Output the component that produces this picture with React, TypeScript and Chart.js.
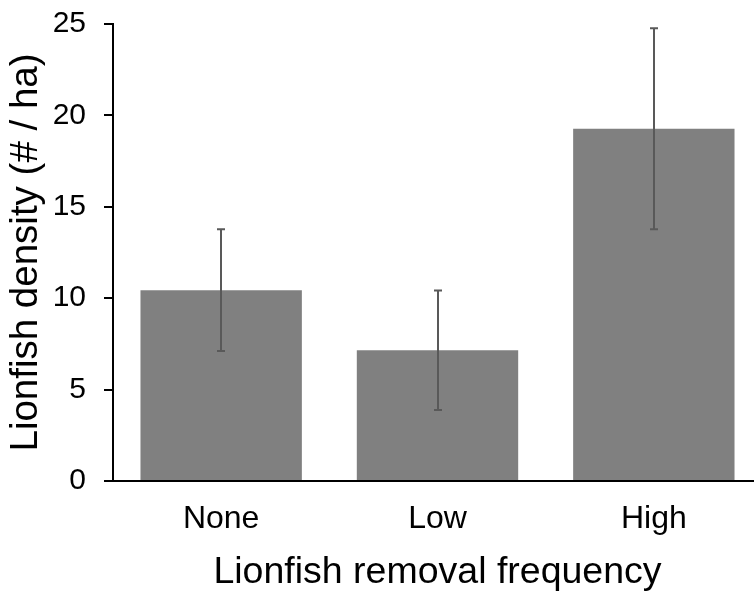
import React, { useEffect, useRef } from "react";
import { Chart, registerables } from "chart.js";

Chart.register(...registerables);

const categories = ["None", "Low", "High"];
const densityMeans = [10.44, 7.15, 19.27];
const densityErrors = [3.33, 3.27, 5.5];
const yTicks = [0, 5, 10, 15, 20, 25];

const FONT = "'Liberation Sans', Arial, sans-serif";

const errorBarPlugin = {
  id: "errorBars",
  afterDatasetsDraw(chart: any) {
    const meta = chart.getDatasetMeta(0);
    const yScale = chart.scales.y;
    const ctx = chart.ctx;
    ctx.save();
    ctx.strokeStyle = "#595959";
    ctx.lineWidth = 2;
    meta.data.forEach((bar: any, i: number) => {
      const x = Math.round(bar.x);
      const top = yScale.getPixelForValue(densityMeans[i] + densityErrors[i]);
      const bot = yScale.getPixelForValue(densityMeans[i] - densityErrors[i]);
      ctx.beginPath();
      ctx.moveTo(x, top);
      ctx.lineTo(x, bot);
      ctx.moveTo(x - 4, top);
      ctx.lineTo(x + 4, top);
      ctx.moveTo(x - 4, bot);
      ctx.lineTo(x + 4, bot);
      ctx.stroke();
    });
    ctx.restore();
  },
};

export default function App() {
  const ref = useRef<HTMLCanvasElement | null>(null);
  useEffect(() => {
    if (!ref.current) return;
    const chart = new Chart(ref.current, {
      type: "bar",
      data: {
        labels: categories,
        datasets: [
          {
            data: densityMeans,
            backgroundColor: "#808080",
            borderWidth: 0,
            categoryPercentage: 1,
            barPercentage: 0.746,
          },
        ],
      },
      options: {
        animation: false,
        responsive: true,
        maintainAspectRatio: false,
        layout: { padding: { top: 24, left: 0, right: 0, bottom: 0 } },
        plugins: {
          legend: { display: false },
          tooltip: { enabled: false },
        },
        scales: {
          x: {
            afterFit: (scale: any) => {
              scale.height = 114;
            },
            grid: { display: true, drawOnChartArea: false, drawTicks: false },
            border: { display: true, color: "#000", width: 2 },
            ticks: {
              color: "#000",
              padding: 19,
              font: { family: FONT, size: 32 },
            },
            title: {
              display: true,
              text: "Lionfish removal frequency",
              color: "#000",
              font: { family: FONT, size: 37.5 },
              padding: { top: 0, bottom: 0 },
            },
          },
          y: {
            min: 0,
            max: 25,
            afterBuildTicks: (scale: any) => {
              scale.ticks = yTicks.map((v) => ({ value: v }));
            },
            afterFit: (scale: any) => {
              scale.width = 113;
              scale.paddingTop = 0;
              scale.paddingBottom = 0;
            },
            grid: {
              display: true,
              drawOnChartArea: false,
              drawTicks: true,
              tickLength: 9,
              color: "#000",
              lineWidth: 2,
            },
            border: { display: true, color: "#000", width: 2 },
            ticks: {
              color: "#000",
              padding: 18,
              font: { family: FONT, size: 30 },
            },
            title: {
              display: true,
              text: "Lionfish density (# / ha)",
              color: "#000",
              font: { family: FONT, size: 38.5 },
              padding: { top: 3, bottom: 0 },
            },
          },
        },
      },
      plugins: [errorBarPlugin],
    });
    return () => chart.destroy();
  }, []);

  return (
    <div
      style={{
        position: "fixed",
        left: 0,
        top: 0,
        width: 762,
        height: 595,
        background: "#fff",
      }}
    >
      <canvas ref={ref} />
    </div>
  );
}
